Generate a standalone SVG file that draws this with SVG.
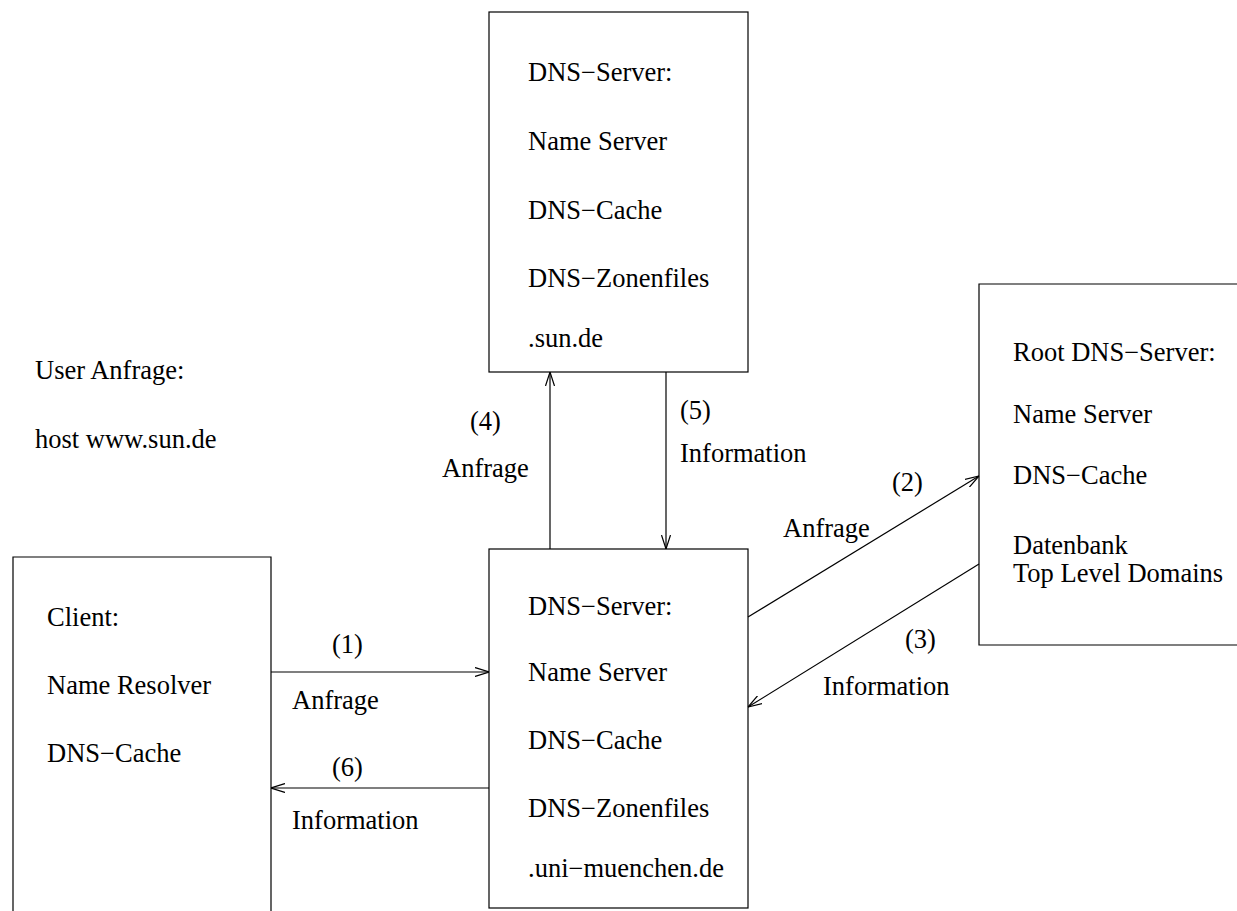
<svg xmlns="http://www.w3.org/2000/svg" width="1237" height="911" viewBox="0 0 1237 911">
<style>
text{font-family:"Liberation Serif","Times New Roman",serif;font-size:26.5px;fill:#000}
.box{fill:none;stroke:#000;stroke-width:1.2}
.conn{fill:none;stroke:#000;stroke-width:1.2}
</style>
<defs>
<marker id="ah" viewBox="0 0 14 10" refX="14" refY="5" markerWidth="14" markerHeight="10" markerUnits="userSpaceOnUse" orient="auto">
<polyline points="0,0.5 14,5 0,9.5" fill="none" stroke="#000" stroke-width="1.2"/>
</marker>
</defs>
<rect width="1237" height="911" fill="#fff"/>
<g id="user-query">
<text x="35" y="379">User Anfrage:</text>
<text x="35" y="448">host www.sun.de</text>
</g>
<g id="sun-dns">
<rect class="box" x="489" y="12" width="259" height="360"/>
<text x="528" y="81">DNS−Server:</text>
<text x="528" y="150">Name Server</text>
<text x="528" y="219">DNS−Cache</text>
<text x="528" y="287">DNS−Zonenfiles</text>
<text x="528" y="347">.sun.de</text>
</g>
<g id="uni-dns">
<rect class="box" x="489" y="549" width="259" height="359"/>
<text x="528" y="615">DNS−Server:</text>
<text x="528" y="681">Name Server</text>
<text x="528" y="749">DNS−Cache</text>
<text x="528" y="817">DNS−Zonenfiles</text>
<text x="528" y="877">.uni−muenchen.de</text>
</g>
<g id="client">
<path class="box" d="M13,911 V557 H271 V911"/>
<text x="47" y="626">Client:</text>
<text x="47" y="694">Name Resolver</text>
<text x="47" y="762">DNS−Cache</text>
</g>
<g id="root-dns">
<path class="box" d="M1237,284 H979 V645 H1237"/>
<text x="1013" y="361">Root DNS−Server:</text>
<text x="1013" y="423">Name Server</text>
<text x="1013" y="484">DNS−Cache</text>
<text x="1013" y="554">Datenbank</text>
<text x="1013" y="582">Top Level Domains</text>
</g>
<g id="connectors">
<line class="conn" x1="271" y1="672" x2="489" y2="672" marker-end="url(#ah)"/>
<line class="conn" x1="489" y1="788" x2="271" y2="788" marker-end="url(#ah)"/>
<line class="conn" x1="550" y1="549" x2="550" y2="372" marker-end="url(#ah)"/>
<line class="conn" x1="666" y1="372" x2="666" y2="549" marker-end="url(#ah)"/>
<line class="conn" x1="748" y1="617" x2="979" y2="476" marker-end="url(#ah)"/>
<line class="conn" x1="979" y1="564" x2="748" y2="707" marker-end="url(#ah)"/>
<text x="332" y="653">(1)</text>
<text x="292" y="709">Anfrage</text>
<text x="332" y="776">(6)</text>
<text x="292" y="829">Information</text>
<text x="470" y="430">(4)</text>
<text x="442" y="477">Anfrage</text>
<text x="680" y="419">(5)</text>
<text x="680" y="462">Information</text>
<text x="892" y="491">(2)</text>
<text x="783" y="537">Anfrage</text>
<text x="905" y="648">(3)</text>
<text x="823" y="695">Information</text>
</g>
</svg>
